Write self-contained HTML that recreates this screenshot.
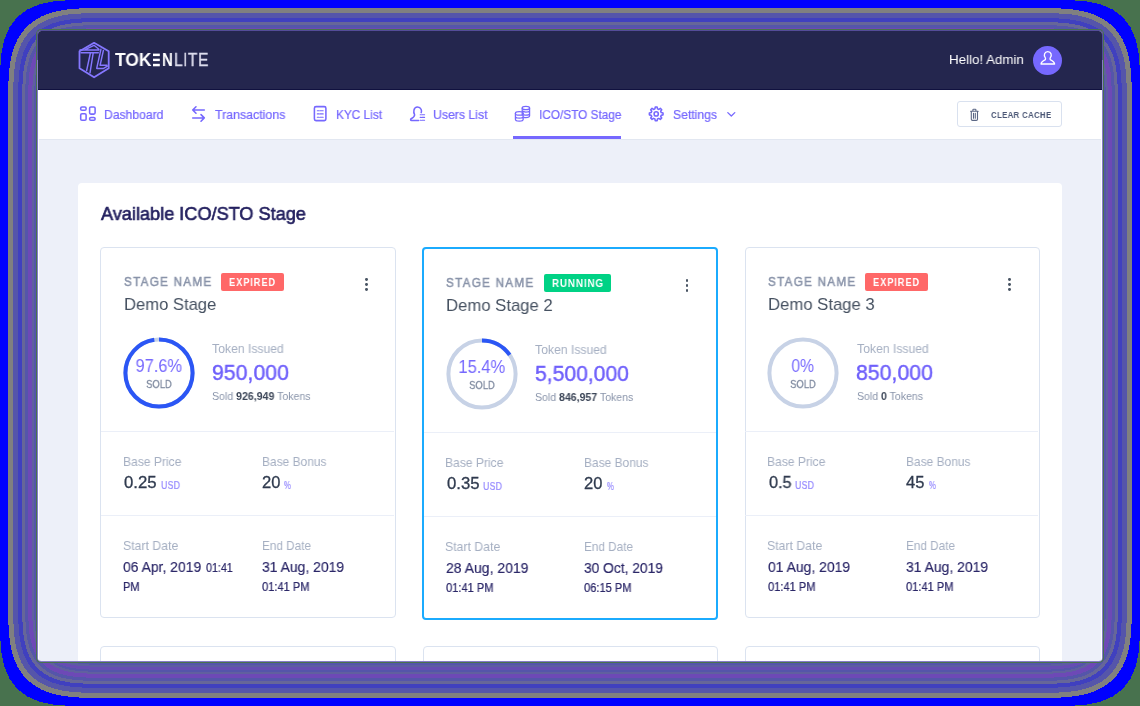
<!DOCTYPE html>
<html><head><meta charset="utf-8"><title>TokenLite</title>
<style>
html,body{margin:0;padding:0}
body{width:1140px;height:706px;overflow:hidden;position:relative;background:rgb(72,114,78);font-family:"Liberation Sans",sans-serif}
.bd{position:absolute}
#gap{position:absolute;left:36px;top:29px;width:1068px;height:634px;border-radius:5px;background:rgb(72,114,78)}
#edge{position:absolute;left:37px;top:30px;width:1066px;height:632px;border-radius:4.5px;background:rgb(134,124,198)}
#edgetop{position:absolute;left:37px;top:30px;width:1066px;height:30px;border-radius:4.5px 4.5px 0 0;background:rgb(84,76,152)}
#page{position:absolute;left:38px;top:31px;width:1064px;height:630px;border-radius:3.5px;background:#edf0f9;overflow:hidden}
#topbar{position:absolute;left:0;top:0;width:100%;height:58.5px;background:#24264e;box-shadow:inset 0 -1px 0 #10113f}
#menubar{position:absolute;left:0;top:58.5px;width:100%;height:49.7px;background:#fff;border-bottom:1.6px solid #e2e7f1}
#panel{position:absolute;left:39.7px;top:151.8px;width:984.4px;height:500px;background:#fff;border-radius:4px 4px 0 0}
#edgeL,#edgeR{position:absolute;top:58.5px;bottom:0;width:1px;background:#fff}
#edgeL{left:0}#edgeR{right:0}
.t{position:absolute;white-space:nowrap;line-height:1;display:inline-block;will-change:transform}
.card{position:absolute;border:1px solid #dbe3f0;border-radius:4px;background:#fff}
.card.act{border:2px solid #1babfe}
.dv{position:absolute;height:1px;background:#ebeff8}
.bdg{position:absolute;border-radius:2px}
.dot{position:absolute;width:2.8px;height:2.8px;border-radius:50%;background:#495463}
.ring{position:absolute}
.ic{position:absolute}
#avatar{position:absolute;left:1033px;top:45.5px;width:29px;height:29px;border-radius:50%;background:#7668fe}
#ccbtn{position:absolute;left:957.4px;top:101.4px;width:102.5px;height:23.3px;border:1px solid #d9e1ef;border-radius:3px;background:#fff}
#uline{position:absolute;left:513.2px;top:136px;width:108.1px;height:2.5px;background:#7668fe}
#icons{position:absolute;left:0;top:0}
#row2{position:absolute;left:0;top:0;width:100%;height:100%}

</style></head>
<body>
<svg class="bd" style="left:0;top:0" width="1140" height="706" viewBox="0 0 1140 706" shape-rendering="crispEdges">
<path d="M0 74C0 21 21 0 74 0H1066C1119 0 1140 21 1140 74V632C1140 685 1119 706 1066 706H74C21 706 0 685 0 632Z" fill="rgb(0,0,255)"/>
<path d="M8.0 353.0L8.0 104.5L8.3 85.0L9.0 72.0L10.1 62.5L11.8 54.5L14.1 47.0L17.2 40.0L19.2 36.5L21.2 33.5L23.5 30.5L25.7 28.0L28.0 25.7L31.0 23.1L36.5 19.2L41.5 16.5L46.5 14.3L52.0 12.5L58.0 11.0L64.0 9.9L71.0 9.1L79.0 8.5L88.5 8.2L119.5 8.0L570.0 8.0L570.0 8.0L1020.5 8.0L1051.5 8.2L1061.0 8.5L1069.0 9.1L1076.0 9.9L1082.0 11.0L1088.0 12.5L1093.5 14.3L1098.5 16.5L1103.5 19.2L1109.0 23.1L1112.0 25.7L1114.3 28.0L1116.5 30.5L1118.8 33.5L1120.8 36.5L1122.8 40.0L1125.9 47.0L1128.2 54.5L1129.9 62.5L1131.0 72.0L1131.7 85.0L1132.0 104.5L1132.0 353.0L1132.0 353.0L1132.0 601.5L1131.7 621.0L1131.0 634.0L1129.9 643.5L1128.2 651.5L1125.9 659.0L1122.8 666.0L1120.8 669.5L1118.8 672.5L1116.5 675.5L1114.3 678.0L1112.0 680.3L1109.0 682.9L1103.5 686.8L1098.5 689.5L1093.5 691.7L1088.0 693.5L1082.0 695.0L1076.0 696.1L1069.0 696.9L1061.0 697.5L1051.5 697.8L1020.5 698.0L570.0 698.0L570.0 698.0L119.5 698.0L88.5 697.8L79.0 697.5L71.0 696.9L64.0 696.1L58.0 695.0L52.0 693.5L46.5 691.7L41.5 689.5L36.5 686.8L31.0 682.9L28.0 680.3L25.7 678.0L23.5 675.5L21.2 672.5L19.2 669.5L17.2 666.0L14.1 659.0L11.8 651.5L10.1 643.5L9.0 634.0L8.3 621.0L8.0 601.5L8.0 353.0Z" fill="rgb(128,128,128)"/>
<path d="M13.0 353.0L13.0 105.5L13.3 86.5L13.9 74.0L15.0 65.0L16.5 57.0L18.9 49.5L21.7 43.0L25.4 37.0L29.5 32.0L32.0 29.5L34.5 27.3L40.0 23.4L44.5 21.0L49.5 18.9L55.0 17.1L60.5 15.8L66.5 14.7L73.5 14.0L81.0 13.5L90.5 13.2L121.0 13.0L570.0 13.0L570.0 13.0L1019.0 13.0L1049.5 13.2L1059.0 13.5L1066.5 14.0L1073.5 14.7L1079.5 15.8L1085.0 17.1L1090.5 18.9L1095.5 21.0L1100.0 23.4L1105.5 27.3L1108.0 29.5L1110.5 32.0L1114.6 37.0L1118.3 43.0L1121.1 49.5L1123.5 57.0L1125.0 65.0L1126.1 74.0L1126.7 86.5L1127.0 105.5L1127.0 353.0L1127.0 353.0L1127.0 600.5L1126.7 619.5L1126.1 632.0L1125.0 641.0L1123.5 649.0L1121.1 656.5L1118.3 663.0L1114.6 669.0L1110.5 674.0L1108.0 676.5L1105.5 678.7L1100.0 682.6L1095.5 685.0L1090.5 687.1L1085.0 688.9L1079.5 690.2L1073.5 691.3L1066.5 692.0L1059.0 692.5L1049.5 692.8L1019.0 693.0L570.0 693.0L570.0 693.0L121.0 693.0L90.5 692.8L81.0 692.5L73.5 692.0L66.5 691.3L60.5 690.2L55.0 688.9L49.5 687.1L44.5 685.0L40.0 682.6L34.5 678.7L32.0 676.5L29.5 674.0L25.4 669.0L21.7 663.0L18.9 656.5L16.5 649.0L15.0 641.0L13.9 632.0L13.3 619.5L13.0 600.5L13.0 353.0Z" fill="rgb(85,85,170)"/>
<path d="M18.0 353.0L18.0 107.0L18.2 88.5L18.8 76.0L19.9 67.0L21.3 59.5L23.5 52.5L26.1 46.5L29.3 41.0L33.3 36.0L38.0 31.6L40.5 29.7L43.5 27.7L48.0 25.3L52.5 23.5L57.5 21.9L63.0 20.6L69.0 19.6L75.5 18.9L83.0 18.4L92.0 18.2L122.0 18.0L570.0 18.0L570.0 18.0L1018.0 18.0L1048.0 18.2L1057.0 18.4L1064.5 18.9L1071.0 19.6L1077.0 20.6L1082.5 21.9L1087.5 23.5L1092.0 25.3L1096.5 27.7L1099.5 29.7L1102.0 31.6L1106.7 36.0L1110.7 41.0L1113.9 46.5L1116.5 52.5L1118.7 59.5L1120.1 67.0L1121.2 76.0L1121.8 88.5L1122.0 107.0L1122.0 353.0L1122.0 353.0L1122.0 599.0L1121.8 617.5L1121.2 630.0L1120.1 639.0L1118.7 646.5L1116.5 653.5L1113.9 659.5L1110.7 665.0L1106.7 670.0L1102.0 674.4L1099.5 676.3L1096.5 678.3L1092.0 680.7L1087.5 682.5L1082.5 684.1L1077.0 685.4L1071.0 686.4L1064.5 687.1L1057.0 687.6L1048.0 687.8L1018.0 688.0L570.0 688.0L570.0 688.0L122.0 688.0L92.0 687.8L83.0 687.6L75.5 687.1L69.0 686.4L63.0 685.4L57.5 684.1L52.5 682.5L48.0 680.7L43.5 678.3L40.5 676.3L38.0 674.4L33.3 670.0L29.3 665.0L26.1 659.5L23.5 653.5L21.3 646.5L19.9 639.0L18.8 630.0L18.2 617.5L18.0 599.0L18.0 353.0Z" fill="rgb(64,64,191)"/>
<path d="M22.0 353.0L22.0 108.5L22.2 90.0L22.8 78.0L23.7 69.5L25.1 62.0L27.0 55.5L29.5 49.5L32.6 44.0L36.6 39.0L41.0 34.9L46.0 31.4L50.0 29.2L54.5 27.3L59.5 25.7L65.0 24.4L70.5 23.5L77.0 22.9L84.0 22.4L93.0 22.2L123.0 22.0L570.0 22.0L570.0 22.0L1017.0 22.0L1047.0 22.2L1056.0 22.4L1063.0 22.9L1069.5 23.5L1075.0 24.4L1080.5 25.7L1085.5 27.3L1090.0 29.2L1094.0 31.4L1099.0 34.9L1103.4 39.0L1107.4 44.0L1110.5 49.5L1113.0 55.5L1114.9 62.0L1116.3 69.5L1117.2 78.0L1117.8 90.0L1118.0 108.5L1118.0 353.0L1118.0 353.0L1118.0 597.5L1117.8 616.0L1117.2 628.0L1116.3 636.5L1114.9 644.0L1113.0 650.5L1110.5 656.5L1107.4 662.0L1103.4 667.0L1099.0 671.1L1094.0 674.6L1090.0 676.8L1085.5 678.7L1080.5 680.3L1075.0 681.6L1069.5 682.5L1063.0 683.1L1056.0 683.6L1047.0 683.8L1017.0 684.0L570.0 684.0L570.0 684.0L123.0 684.0L93.0 683.8L84.0 683.6L77.0 683.1L70.5 682.5L65.0 681.6L59.5 680.3L54.5 678.7L50.0 676.8L46.0 674.6L41.0 671.1L36.6 667.0L32.6 662.0L29.5 656.5L27.0 650.5L25.1 644.0L23.7 636.5L22.8 628.0L22.2 616.0L22.0 597.5L22.0 353.0Z" fill="rgb(102,102,153)"/>
<path d="M25.0 353.0L25.0 109.5L25.2 91.5L25.7 79.5L26.6 71.0L27.9 64.0L29.7 57.5L32.1 51.5L35.3 46.0L38.9 41.5L43.0 37.6L48.0 34.0L52.0 31.9L56.5 30.0L61.5 28.5L66.5 27.3L72.0 26.5L78.0 25.8L85.0 25.4L94.0 25.1L123.5 25.0L570.0 25.0L570.0 25.0L1016.5 25.0L1046.0 25.1L1055.0 25.4L1062.0 25.8L1068.0 26.5L1073.5 27.3L1078.5 28.5L1083.5 30.0L1088.0 31.9L1092.0 34.0L1097.0 37.6L1101.1 41.5L1104.7 46.0L1107.9 51.5L1110.3 57.5L1112.1 64.0L1113.4 71.0L1114.3 79.5L1114.8 91.5L1115.0 109.5L1115.0 353.0L1115.0 353.0L1115.0 596.5L1114.8 614.5L1114.3 626.5L1113.4 635.0L1112.1 642.0L1110.3 648.5L1107.9 654.5L1104.7 660.0L1101.1 664.5L1097.0 668.4L1092.0 672.0L1088.0 674.1L1083.5 676.0L1078.5 677.5L1073.5 678.7L1068.0 679.5L1062.0 680.2L1055.0 680.6L1046.0 680.9L1016.5 681.0L570.0 681.0L570.0 681.0L123.5 681.0L94.0 680.9L85.0 680.6L78.0 680.2L72.0 679.5L66.5 678.7L61.5 677.5L56.5 676.0L52.0 674.1L48.0 672.0L43.0 668.4L38.9 664.5L35.3 660.0L32.1 654.5L29.7 648.5L27.9 642.0L26.6 635.0L25.7 626.5L25.2 614.5L25.0 596.5L25.0 353.0Z" fill="rgb(85,85,170)"/>
<path d="M28.0 353.0L28.0 110.5L28.2 92.5L28.7 81.0L29.5 72.5L30.8 65.5L32.6 59.0L34.8 53.5L37.7 48.5L41.2 44.0L45.5 39.9L50.0 36.7L54.0 34.6L58.0 32.9L63.0 31.4L68.0 30.2L73.5 29.4L79.5 28.8L95.0 28.1L124.0 28.0L570.0 28.0L570.0 28.0L1016.0 28.0L1045.0 28.1L1060.5 28.8L1066.5 29.4L1072.0 30.2L1077.0 31.4L1082.0 32.9L1086.0 34.6L1090.0 36.7L1094.5 39.9L1098.8 44.0L1102.3 48.5L1105.2 53.5L1107.4 59.0L1109.2 65.5L1110.5 72.5L1111.3 81.0L1111.8 92.5L1112.0 110.5L1112.0 353.0L1112.0 353.0L1112.0 595.5L1111.8 613.5L1111.3 625.0L1110.5 633.5L1109.2 640.5L1107.4 647.0L1105.2 652.5L1102.3 657.5L1098.8 662.0L1094.5 666.1L1090.0 669.3L1086.0 671.4L1082.0 673.1L1077.0 674.6L1072.0 675.8L1066.5 676.6L1060.5 677.2L1045.0 677.9L1016.0 678.0L570.0 678.0L570.0 678.0L124.0 678.0L95.0 677.9L79.5 677.2L73.5 676.6L68.0 675.8L63.0 674.6L58.0 673.1L54.0 671.4L50.0 669.3L45.5 666.1L41.2 662.0L37.7 657.5L34.8 652.5L32.6 647.0L30.8 640.5L29.5 633.5L28.7 625.0L28.2 613.5L28.0 595.5L28.0 353.0Z" fill="rgb(109,73,182)"/>
<path d="M32.0 353.0L32.0 111.5L32.2 94.0L32.6 82.5L33.4 74.5L34.6 67.5L36.3 61.5L38.5 56.0L41.4 51.0L44.6 47.0L48.5 43.3L53.0 40.2L57.0 38.1L61.0 36.5L65.5 35.1L70.5 34.0L75.5 33.3L81.5 32.7L97.0 32.1L570.0 32.0L570.0 32.0L1043.0 32.1L1058.5 32.7L1064.5 33.3L1069.5 34.0L1074.5 35.1L1079.0 36.5L1083.0 38.1L1087.0 40.2L1091.5 43.3L1095.4 47.0L1098.6 51.0L1101.5 56.0L1103.7 61.5L1105.4 67.5L1106.6 74.5L1107.4 82.5L1107.8 94.0L1108.0 111.5L1108.0 353.0L1108.0 353.0L1108.0 594.5L1107.8 612.0L1107.4 623.5L1106.6 631.5L1105.4 638.5L1103.7 644.5L1101.5 650.0L1098.6 655.0L1095.4 659.0L1091.5 662.7L1087.0 665.8L1083.0 667.9L1079.0 669.5L1074.5 670.9L1069.5 672.0L1064.5 672.7L1058.5 673.3L1043.0 673.9L570.0 674.0L570.0 674.0L97.0 673.9L81.5 673.3L75.5 672.7L70.5 672.0L65.5 670.9L61.0 669.5L57.0 667.9L53.0 665.8L48.5 662.7L44.6 659.0L41.4 655.0L38.5 650.0L36.3 644.5L34.6 638.5L33.4 631.5L32.6 623.5L32.2 612.0L32.0 594.5L32.0 353.0Z" fill="rgb(96,96,159)"/>
<path d="M34.0 353.0L34.0 112.0L34.2 94.5L34.6 83.5L35.4 75.5L36.5 69.0L38.1 63.0L40.3 57.5L43.2 52.5L46.3 48.5L50.0 45.0L54.5 41.9L58.0 40.1L62.0 38.4L66.5 37.1L71.5 36.0L76.5 35.3L82.5 34.7L97.5 34.1L570.0 34.0L570.0 34.0L1042.5 34.1L1057.5 34.7L1063.5 35.3L1068.5 36.0L1073.5 37.1L1078.0 38.4L1082.0 40.1L1085.5 41.9L1090.0 45.0L1093.7 48.5L1096.8 52.5L1099.7 57.5L1101.9 63.0L1103.5 69.0L1104.6 75.5L1105.4 83.5L1105.8 94.5L1106.0 112.0L1106.0 353.0L1106.0 353.0L1106.0 594.0L1105.8 611.5L1105.4 622.5L1104.6 630.5L1103.5 637.0L1101.9 643.0L1099.7 648.5L1096.8 653.5L1093.7 657.5L1090.0 661.0L1085.5 664.1L1082.0 665.9L1078.0 667.6L1073.5 668.9L1068.5 670.0L1063.5 670.7L1057.5 671.3L1042.5 671.9L570.0 672.0L570.0 672.0L97.5 671.9L82.5 671.3L76.5 670.7L71.5 670.0L66.5 668.9L62.0 667.6L58.0 665.9L54.5 664.1L50.0 661.0L46.3 657.5L43.2 653.5L40.3 648.5L38.1 643.0L36.5 637.0L35.4 630.5L34.6 622.5L34.2 611.5L34.0 594.0L34.0 353.0Z" fill="rgb(85,85,170)"/>
<path d="M36.0 353.0L36.0 113.0L36.2 95.5L36.6 84.5L37.3 76.5L38.4 70.0L40.1 64.0L42.0 59.0L44.9 54.0L48.0 50.0L51.5 46.7L56.0 43.6L59.5 41.8L63.5 40.2L68.0 38.9L72.5 38.0L77.5 37.2L83.5 36.7L98.5 36.1L570.0 36.0L570.0 36.0L1041.5 36.1L1056.5 36.7L1062.5 37.2L1067.5 38.0L1072.0 38.9L1076.5 40.2L1080.5 41.8L1084.0 43.6L1088.5 46.7L1092.0 50.0L1095.1 54.0L1098.0 59.0L1099.9 64.0L1101.6 70.0L1102.7 76.5L1103.4 84.5L1103.8 95.5L1104.0 113.0L1104.0 353.0L1104.0 353.0L1104.0 593.0L1103.8 610.5L1103.4 621.5L1102.7 629.5L1101.6 636.0L1099.9 642.0L1098.0 647.0L1095.1 652.0L1092.0 656.0L1088.5 659.3L1084.0 662.4L1080.5 664.2L1076.5 665.8L1072.0 667.1L1067.5 668.0L1062.5 668.8L1056.5 669.3L1041.5 669.9L570.0 670.0L570.0 670.0L98.5 669.9L83.5 669.3L77.5 668.8L72.5 668.0L68.0 667.1L63.5 665.8L59.5 664.2L56.0 662.4L51.5 659.3L48.0 656.0L44.9 652.0L42.0 647.0L40.1 642.0L38.4 636.0L37.3 629.5L36.6 621.5L36.2 610.5L36.0 593.0L36.0 353.0Z" fill="rgb(102,77,179)"/>
<path d="M39.0 353.0L39.0 114.0L39.2 97.0L39.6 86.0L40.2 78.5L41.3 72.0L42.8 66.0L44.8 61.0L47.3 56.5L50.4 52.5L54.0 49.1L58.0 46.4L61.5 44.6L65.5 43.0L69.5 41.8L74.0 40.9L79.0 40.2L84.5 39.7L99.5 39.1L570.0 39.0L570.0 39.0L1040.5 39.1L1055.5 39.7L1061.0 40.2L1066.0 40.9L1070.5 41.8L1074.5 43.0L1078.5 44.6L1082.0 46.4L1086.0 49.1L1089.6 52.5L1092.7 56.5L1095.2 61.0L1097.2 66.0L1098.7 72.0L1099.8 78.5L1100.4 86.0L1100.8 97.0L1101.0 114.0L1101.0 353.0L1101.0 353.0L1101.0 592.0L1100.8 609.0L1100.4 620.0L1099.8 627.5L1098.7 634.0L1097.2 640.0L1095.2 645.0L1092.7 649.5L1089.6 653.5L1086.0 656.9L1082.0 659.6L1078.5 661.4L1074.5 663.0L1070.5 664.2L1066.0 665.1L1061.0 665.8L1055.5 666.3L1040.5 666.9L570.0 667.0L570.0 667.0L99.5 666.9L84.5 666.3L79.0 665.8L74.0 665.1L69.5 664.2L65.5 663.0L61.5 661.4L58.0 659.6L54.0 656.9L50.4 653.5L47.3 649.5L44.8 645.0L42.8 640.0L41.3 634.0L40.2 627.5L39.6 620.0L39.2 609.0L39.0 592.0L39.0 353.0Z" fill="rgb(93,93,162)"/>
<path d="M41.0 353.0L41.0 114.5L41.2 97.5L41.5 87.0L42.2 79.5L43.2 73.0L44.7 67.5L46.6 62.5L49.1 58.0L52.2 54.0L55.5 50.9L59.5 48.2L63.0 46.4L66.5 45.0L71.0 43.7L75.5 42.8L80.5 42.1L86.0 41.6L100.5 41.1L570.0 41.0L570.0 41.0L1039.5 41.1L1054.0 41.6L1059.5 42.1L1064.5 42.8L1069.0 43.7L1073.5 45.0L1077.0 46.4L1080.5 48.2L1084.5 50.9L1087.8 54.0L1090.9 58.0L1093.4 62.5L1095.3 67.5L1096.8 73.0L1097.8 79.5L1098.5 87.0L1098.8 97.5L1099.0 114.5L1099.0 353.0L1099.0 353.0L1099.0 591.5L1098.8 608.5L1098.5 619.0L1097.8 626.5L1096.8 633.0L1095.3 638.5L1093.4 643.5L1090.9 648.0L1087.8 652.0L1084.5 655.1L1080.5 657.8L1077.0 659.6L1073.5 661.0L1069.0 662.3L1064.5 663.2L1059.5 663.9L1054.0 664.4L1039.5 664.9L570.0 665.0L570.0 665.0L100.5 664.9L86.0 664.4L80.5 663.9L75.5 663.2L71.0 662.3L66.5 661.0L63.0 659.6L59.5 657.8L55.5 655.1L52.2 652.0L49.1 648.0L46.6 643.5L44.7 638.5L43.2 633.0L42.2 626.5L41.5 619.0L41.2 608.5L41.0 591.5L41.0 353.0Z" fill="rgb(85,85,170)"/>
<path d="M43.0 353.0L43.0 115.5L43.1 98.5L43.5 88.0L44.2 80.5L45.1 74.5L46.5 69.0L48.4 64.0L50.8 59.5L53.5 56.0L57.0 52.7L61.0 49.9L64.5 48.2L68.0 46.8L72.0 45.7L76.5 44.7L81.5 44.1L87.0 43.6L101.0 43.1L570.0 43.0L570.0 43.0L1039.0 43.1L1053.0 43.6L1058.5 44.1L1063.5 44.7L1068.0 45.7L1072.0 46.8L1075.5 48.2L1079.0 49.9L1083.0 52.7L1086.5 56.0L1089.2 59.5L1091.6 64.0L1093.5 69.0L1094.9 74.5L1095.8 80.5L1096.5 88.0L1096.9 98.5L1097.0 115.5L1097.0 353.0L1097.0 353.0L1097.0 590.5L1096.9 607.5L1096.5 618.0L1095.8 625.5L1094.9 631.5L1093.5 637.0L1091.6 642.0L1089.2 646.5L1086.5 650.0L1083.0 653.3L1079.0 656.1L1075.5 657.8L1072.0 659.2L1068.0 660.3L1063.5 661.3L1058.5 661.9L1053.0 662.4L1039.0 662.9L570.0 663.0L570.0 663.0L101.0 662.9L87.0 662.4L81.5 661.9L76.5 661.3L72.0 660.3L68.0 659.2L64.5 657.8L61.0 656.1L57.0 653.3L53.5 650.0L50.8 646.5L48.4 642.0L46.5 637.0L45.1 631.5L44.2 625.5L43.5 618.0L43.1 607.5L43.0 590.5L43.0 353.0Z" fill="rgb(98,78,177)"/>
</svg>

<div id="gap"></div>
<div id="edge"></div><div id="edgetop"></div>
<div id="page">
<div id="topbar"></div>
<div id="menubar"></div>
<div id="panel"></div>
<div id="edgeL"></div><div id="edgeR"></div>
<div id="row2">
<div class="card" style="left:62.4px;top:614.6px;width:293.2px;height:40px"></div>
<div class="card" style="left:384.5px;top:614.6px;width:293.2px;height:40px"></div>
<div class="card" style="left:706.5px;top:614.6px;width:293.2px;height:40px"></div>
</div>
</div>
<div id="avatar"></div>
<div id="ccbtn"></div>
<div id="uline"></div>
<svg id="icons" width="1140" height="706" viewBox="0 0 1140 706" fill="none" stroke-linecap="round" stroke-linejoin="round">
<!-- logo -->
<g stroke="#8577ff" stroke-width="1.8">
<path d="M94.1 42.8L108.7 51.3V68.2L94.1 77.3L79.5 68.2V51.3Z"/>
<path d="M80 49.9H99M81 52.7H98.3M90.4 53L86.6 70.6M93.2 53L90 72.8M85.6 49.4L94 45.3L98.9 49.3" stroke-width="1.45"/>
<path d="M100.9 49.3L96.7 68.4H103.6L107.4 66.2M103.4 50.4L100.1 65.3H107" stroke-width="1.45"/>
</g>
<!-- stylised E bars -->
<g fill="#ffffff" stroke="none"><rect x="153" y="53.6" width="6.8" height="2.5"/><rect x="153" y="58.7" width="6.8" height="2.4"/><rect x="153" y="63.8" width="6.8" height="2.5"/></g>
<!-- dashboard icon -->
<g stroke="#7668fe" stroke-width="1.55">
<rect x="80.7" y="106.9" width="5.4" height="3.4" rx="1.3"/>
<rect x="80.7" y="113.8" width="5.4" height="6.5" rx="1.3"/>
<rect x="89.6" y="106.9" width="5.5" height="7.2" rx="1.3"/>
<rect x="89.6" y="117.5" width="5.5" height="2.8" rx="1.3"/>
</g>
<!-- transactions icon -->
<g stroke="#7668fe" stroke-width="1.55">
<path d="M204.3 110H192.7M196 106.7L192.7 110L196 113.3"/>
<path d="M192.7 117.9H204.3M201 114.6L204.3 117.9L201 121.2"/>
</g>
<!-- kyc icon -->
<g stroke="#7668fe" stroke-width="1.55">
<rect x="314.4" y="106.6" width="11.5" height="14" rx="1.6"/>
<path d="M317.3 110.7H323.2M317.3 113.9H323.2M317.3 117.2H323.2" stroke-width="1.1" stroke-dasharray="1.6 1 5 0"/>
</g>
<!-- users icon -->
<g stroke="#7668fe" stroke-width="1.55">
<path d="M418.6 120.5H411.6C410.4 120.5 410.3 119.3 411.2 118.7C413.2 117.6 414.8 116.6 414.6 114.6C413.2 112.6 413.4 107 417.5 107C421.3 107 422 111 421.2 112.6"/>
<path d="M420.2 114.7H424.6M420.2 117.4H424.6M420.2 120.2H424.6" stroke-width="1.1" stroke-dasharray="1 0.9 4 0"/>
</g>
<!-- ico icon -->
<g stroke="#7668fe" stroke-width="1.25">
<ellipse cx="525.9" cy="108" rx="3.7" ry="1.7"/>
<path d="M522.2 108V115.6M529.6 108V115.8C529.6 116.8 527.6 117.6 525.9 117.6C525 117.6 524.3 117.5 523.8 117.3M522.3 110.6C523 111.6 524.6 112 525.9 112C527.6 112 529.6 111.4 529.6 110.4M524 114.9C524.6 115 525.2 115.1 525.9 115.1C527.6 115.1 529.6 114.4 529.6 113.4"/>
<ellipse cx="519.3" cy="113.4" rx="3.9" ry="1.8"/>
<path d="M515.4 113.4V119.3C515.4 120.4 517.3 121.2 519.3 121.2C521.3 121.2 523.2 120.4 523.2 119.3V113.4M515.4 116.3C515.4 117.4 517.3 118.2 519.3 118.2C521.3 118.2 523.2 117.4 523.2 116.3"/>
</g>
<!-- gear -->
<g stroke="#7668fe" stroke-width="1.55">
<circle cx="656.2" cy="113.9" r="2.1"/>
<path d="M655.23 107.07L657.17 107.07L657.49 108.86L658.85 109.42L660.34 108.38L661.72 109.76L660.68 111.25L661.24 112.61L663.03 112.93L663.03 114.87L661.24 115.19L660.68 116.55L661.72 118.04L660.34 119.42L658.85 118.38L657.49 118.94L657.17 120.73L655.23 120.73L654.91 118.94L653.55 118.38L652.06 119.42L650.68 118.04L651.72 116.55L651.16 115.19L649.37 114.87L649.37 112.93L651.16 112.61L651.72 111.25L650.68 109.76L652.06 108.38L653.55 109.42L654.91 108.86Z"/>
</g>
<!-- chevron -->
<path d="M727.8 112.6L731.3 116L734.8 112.6" stroke="#7668fe" stroke-width="1.3"/>
<!-- avatar person -->
<g stroke="#ffffff" stroke-width="1.3">
<path d="M1041 64H1054.6C1054.6 62 1053 61 1050.2 59.6C1049.8 58.6 1050 58 1050.6 57.2C1051.8 55.4 1051.4 51.6 1047.8 51.6C1044.2 51.6 1043.8 55.4 1045 57.2C1045.6 58 1045.8 58.6 1045.4 59.6C1042.6 61 1041 62 1041 64Z"/>
</g>
<!-- trash -->
<g stroke="#5b6785" stroke-width="1.1">
<path d="M970.6 111.2H978.2M972.9 111V109.8C972.9 109.4 973.2 109.2 973.6 109.2H975.2C975.6 109.2 975.9 109.4 975.9 109.8V111M971.3 111.3V119.2C971.3 119.9 971.8 120.4 972.5 120.4H976.3C977 120.4 977.5 119.9 977.5 119.2V111.3M973.5 113.3V118.2M975.3 113.3V118.2"/>
</g>
</svg>

<div class="card" style="left:100.4px;top:247.3px;width:293.2px;height:368.3px"></div>
<div class="dv" style="left:101.0px;top:431px;width:293px"></div>
<div class="dv" style="left:101.0px;top:515px;width:293px"></div>
<div class="bdg" style="left:220.9px;top:272.8px;width:62.9px;height:18.5px;background:#ff6868"></div>
<div class="dot" style="left:364.8px;top:277.8px"></div>
<div class="dot" style="left:364.8px;top:283.0px"></div>
<div class="dot" style="left:364.8px;top:288.2px"></div>
<svg class="ring" style="left:122.7px;top:336.9px" width="72" height="72" viewBox="-36 -36 72 72"><circle r="33.6" fill="none" stroke="#c7d2e6" stroke-width="4"/><circle r="33.6" fill="none" stroke="#2b56f5" stroke-width="4" stroke-dasharray="206.05 211.12" transform="rotate(-90)"/></svg>
<div class="card act" style="left:422.1px;top:246.9px;width:291.8px;height:368.7px"></div>
<div class="dv" style="left:423.7px;top:432px;width:292px"></div>
<div class="dv" style="left:423.7px;top:516px;width:292px"></div>
<div class="bdg" style="left:543.6px;top:273.8px;width:67.1px;height:18.5px;background:#00d285"></div>
<div class="dot" style="left:685.6px;top:278.8px"></div>
<div class="dot" style="left:685.6px;top:284.0px"></div>
<div class="dot" style="left:685.6px;top:289.2px"></div>
<svg class="ring" style="left:446.0px;top:338.1px" width="72" height="72" viewBox="-36 -36 72 72"><circle r="33.6" fill="none" stroke="#c7d2e6" stroke-width="4"/><circle r="33.6" fill="none" stroke="#2b56f5" stroke-width="4" stroke-dasharray="32.51 211.12" transform="rotate(-90)"/></svg>
<div class="card" style="left:744.5px;top:247.3px;width:293.2px;height:368.3px"></div>
<div class="dv" style="left:745.4px;top:431px;width:293px"></div>
<div class="dv" style="left:745.4px;top:515px;width:293px"></div>
<div class="bdg" style="left:865.3px;top:272.8px;width:62.9px;height:18.5px;background:#ff6868"></div>
<div class="dot" style="left:1008.0px;top:277.8px"></div>
<div class="dot" style="left:1008.0px;top:283.0px"></div>
<div class="dot" style="left:1008.0px;top:288.2px"></div>
<svg class="ring" style="left:767.1px;top:336.9px" width="72" height="72" viewBox="-36 -36 72 72"><circle r="33.6" fill="none" stroke="#c7d2e6" stroke-width="4"/></svg>

<span class="t" id="lg1" style="left:115.00px;top:52.35px;font-size:17.9px;font-weight:700;color:#ffffff;transform:scaleX(0.9746);transform-origin:left top;">TOK</span>
<span class="t" id="lg2" style="left:161.60px;top:52.35px;font-size:17.9px;font-weight:700;color:#ffffff;transform:scaleX(0.8435);transform-origin:left top;">N</span>
<span class="t" id="lg3" style="left:174.20px;top:52.35px;font-size:17.9px;font-weight:400;color:#dddced;-webkit-text-stroke:0.36px #dddced;letter-spacing:0.6px;transform:scaleX(0.8664);transform-origin:left top;">LITE</span>
<span class="t" id="hello" style="left:949.40px;top:52.87px;font-size:13.5px;font-weight:400;color:#ffffff;transform:scaleX(0.9882);transform-origin:left top;">Hello! Admin</span>
<span class="t" id="m1" style="left:104.20px;top:107.80px;font-size:13px;font-weight:400;color:#7668fe;-webkit-text-stroke:0.23px #7668fe;transform:scaleX(0.9354);transform-origin:left top;">Dashboard</span>
<span class="t" id="m2" style="left:215.00px;top:107.80px;font-size:13px;font-weight:400;color:#7668fe;-webkit-text-stroke:0.23px #7668fe;transform:scaleX(0.9508);transform-origin:left top;">Transactions</span>
<span class="t" id="m3" style="left:336.30px;top:107.80px;font-size:13px;font-weight:400;color:#7668fe;-webkit-text-stroke:0.23px #7668fe;transform:scaleX(0.9095);transform-origin:left top;">KYC List</span>
<span class="t" id="m4" style="left:433.00px;top:107.80px;font-size:13px;font-weight:400;color:#7668fe;-webkit-text-stroke:0.23px #7668fe;transform:scaleX(0.9430);transform-origin:left top;">Users List</span>
<span class="t" id="m5" style="left:538.80px;top:107.80px;font-size:13px;font-weight:400;color:#7668fe;-webkit-text-stroke:0.23px #7668fe;transform:scaleX(0.9086);transform-origin:left top;">ICO/STO Stage</span>
<span class="t" id="m6" style="left:672.60px;top:107.80px;font-size:13px;font-weight:400;color:#7668fe;-webkit-text-stroke:0.23px #7668fe;transform:scaleX(0.9365);transform-origin:left top;">Settings</span>
<span class="t" id="cc" style="left:991.00px;top:109.84px;font-size:9.4px;font-weight:700;color:#4a5675;letter-spacing:0.4px;transform:scaleX(0.8333);transform-origin:left top;">CLEAR CACHE</span>
<span class="t" id="h1" style="left:100.70px;top:204.59px;font-size:18.8px;font-weight:400;color:#23205f;-webkit-text-stroke:0.60px #23205f;transform:scaleX(0.9652);transform-origin:left top;">Available ICO/STO Stage</span>
<span class="t" id="c0sn" style="left:123.70px;top:275.80px;font-size:12.4px;font-weight:400;color:#8993a9;-webkit-text-stroke:0.50px #8993a9;letter-spacing:1.4px;transform:scaleX(0.9373);transform-origin:left top;">STAGE NAME</span>
<span class="t" id="c0bg" style="left:229.00px;top:276.76px;font-size:10.8px;font-weight:700;color:#ffffff;letter-spacing:1.0px;transform:scaleX(0.8651);transform-origin:left top;">EXPIRED</span>
<span class="t" id="c0nm" style="left:123.70px;top:295.81px;font-size:17px;font-weight:400;color:#465161;transform:scaleX(0.9767);transform-origin:left top;">Demo Stage</span>
<span class="t" id="c0pc" style="left:133.89px;top:357.59px;font-size:17.5px;font-weight:400;color:#7668fe;transform:scaleX(0.9370);transform-origin:center top;">97.6%</span>
<span class="t" id="c0so" style="left:143.72px;top:379.39px;font-size:11px;font-weight:400;color:#818ca1;-webkit-text-stroke:0.28px #818ca1;transform:scaleX(0.8542);transform-origin:center top;">SOLD</span>
<span class="t" id="c0ti" style="left:212.40px;top:342.79px;font-size:12.3px;font-weight:400;color:#a5afc2;transform:scaleX(0.9908);transform-origin:left top;">Token Issued</span>
<span class="t" id="c0is" style="left:212.00px;top:361.95px;font-size:21.8px;font-weight:400;color:#6e5ffb;-webkit-text-stroke:0.44px #6e5ffb;transform:scaleX(0.9759);transform-origin:left top;">950,000</span>
<span class="t" id="c0sl" style="left:212.40px;top:390.69px;font-size:11px;font-weight:400;color:#8a95ab;transform:scaleX(0.9614);transform-origin:left top;">Sold <b style="color:#3c4658">926,949</b> Tokens</span>
<span class="t" id="c0bp" style="left:122.50px;top:456.16px;font-size:12.8px;font-weight:400;color:#a5afc2;transform:scaleX(0.9436);transform-origin:left top;">Base Price</span>
<span class="t" id="c0bb" style="left:261.50px;top:456.16px;font-size:12.8px;font-weight:400;color:#a5afc2;transform:scaleX(0.9346);transform-origin:left top;">Base Bonus</span>
<span class="t" id="c0pr" style="left:124.20px;top:475.25px;font-size:16.6px;font-weight:400;color:#2f3a4e;-webkit-text-stroke:0.30px #2f3a4e;transform:scaleX(1.0094);transform-origin:left top;">0.25</span>
<span class="t" id="c0us" style="left:160.70px;top:480.50px;font-size:10.4px;font-weight:400;color:#9488ff;-webkit-text-stroke:0.19px #9488ff;transform:scaleX(0.8655);transform-origin:left top;">USD</span>
<span class="t" id="c0bn" style="left:261.70px;top:475.25px;font-size:16.6px;font-weight:400;color:#2f3a4e;-webkit-text-stroke:0.30px #2f3a4e;transform:scaleX(0.9963);transform-origin:left top;">20</span>
<span class="t" id="c0bpc" style="left:284.40px;top:480.50px;font-size:10.4px;font-weight:400;color:#9488ff;-webkit-text-stroke:0.19px #9488ff;transform:scaleX(0.7351);transform-origin:left top;">%</span>
<span class="t" id="c0sdl" style="left:122.50px;top:539.76px;font-size:12.8px;font-weight:400;color:#a5afc2;transform:scaleX(0.9597);transform-origin:left top;">Start Date</span>
<span class="t" id="c0edl" style="left:261.50px;top:539.76px;font-size:12.8px;font-weight:400;color:#a5afc2;transform:scaleX(0.9183);transform-origin:left top;">End Date</span>
<span class="t" id="c0sd" style="left:123.40px;top:559.10px;font-size:15px;font-weight:400;color:#2b2768;-webkit-text-stroke:0.18px #2b2768;transform:scaleX(0.9282);transform-origin:left top;">06 Apr, 2019</span>
<span class="t" id="c0ed" style="left:261.70px;top:559.10px;font-size:15px;font-weight:400;color:#2b2768;-webkit-text-stroke:0.18px #2b2768;transform:scaleX(0.9285);transform-origin:left top;">31 Aug, 2019</span>
<span class="t" id="c0st1" style="left:206.20px;top:561.64px;font-size:12px;font-weight:400;color:#2b2768;-webkit-text-stroke:0.22px #2b2768;transform:scaleX(0.8924);transform-origin:left top;">01:41</span>
<span class="t" id="c0st2" style="left:123.40px;top:580.54px;font-size:12px;font-weight:400;color:#2b2768;-webkit-text-stroke:0.22px #2b2768;transform:scaleX(0.9167);transform-origin:left top;">PM</span>
<span class="t" id="c0et" style="left:261.70px;top:580.54px;font-size:12px;font-weight:400;color:#2b2768;-webkit-text-stroke:0.22px #2b2768;transform:scaleX(0.9265);transform-origin:left top;">01:41 PM</span>
<span class="t" id="c1sn" style="left:446.40px;top:276.80px;font-size:12.4px;font-weight:400;color:#8993a9;-webkit-text-stroke:0.50px #8993a9;letter-spacing:1.4px;transform:scaleX(0.9373);transform-origin:left top;">STAGE NAME</span>
<span class="t" id="c1bg" style="left:551.70px;top:277.76px;font-size:10.8px;font-weight:700;color:#ffffff;letter-spacing:1.0px;transform:scaleX(0.9044);transform-origin:left top;">RUNNING</span>
<span class="t" id="c1nm" style="left:446.40px;top:296.81px;font-size:17px;font-weight:400;color:#465161;transform:scaleX(0.9817);transform-origin:left top;">Demo Stage 2</span>
<span class="t" id="c1pc" style="left:457.19px;top:358.59px;font-size:17.5px;font-weight:400;color:#7668fe;transform:scaleX(0.9431);transform-origin:center top;">15.4%</span>
<span class="t" id="c1so" style="left:467.02px;top:380.39px;font-size:11px;font-weight:400;color:#818ca1;-webkit-text-stroke:0.28px #818ca1;transform:scaleX(0.8542);transform-origin:center top;">SOLD</span>
<span class="t" id="c1ti" style="left:535.10px;top:343.79px;font-size:12.3px;font-weight:400;color:#a5afc2;transform:scaleX(0.9908);transform-origin:left top;">Token Issued</span>
<span class="t" id="c1is" style="left:534.70px;top:362.95px;font-size:21.8px;font-weight:400;color:#6e5ffb;-webkit-text-stroke:0.44px #6e5ffb;transform:scaleX(0.9694);transform-origin:left top;">5,500,000</span>
<span class="t" id="c1sl" style="left:535.10px;top:391.69px;font-size:11px;font-weight:400;color:#8a95ab;transform:scaleX(0.9584);transform-origin:left top;">Sold <b style="color:#3c4658">846,957</b> Tokens</span>
<span class="t" id="c1bp" style="left:445.20px;top:457.16px;font-size:12.8px;font-weight:400;color:#a5afc2;transform:scaleX(0.9436);transform-origin:left top;">Base Price</span>
<span class="t" id="c1bb" style="left:584.20px;top:457.16px;font-size:12.8px;font-weight:400;color:#a5afc2;transform:scaleX(0.9346);transform-origin:left top;">Base Bonus</span>
<span class="t" id="c1pr" style="left:446.90px;top:476.25px;font-size:16.6px;font-weight:400;color:#2f3a4e;-webkit-text-stroke:0.30px #2f3a4e;transform:scaleX(1.0094);transform-origin:left top;">0.35</span>
<span class="t" id="c1us" style="left:483.40px;top:481.50px;font-size:10.4px;font-weight:400;color:#9488ff;-webkit-text-stroke:0.19px #9488ff;transform:scaleX(0.8655);transform-origin:left top;">USD</span>
<span class="t" id="c1bn" style="left:584.40px;top:476.25px;font-size:16.6px;font-weight:400;color:#2f3a4e;-webkit-text-stroke:0.30px #2f3a4e;transform:scaleX(0.9963);transform-origin:left top;">20</span>
<span class="t" id="c1bpc" style="left:607.10px;top:481.50px;font-size:10.4px;font-weight:400;color:#9488ff;-webkit-text-stroke:0.19px #9488ff;transform:scaleX(0.7351);transform-origin:left top;">%</span>
<span class="t" id="c1sdl" style="left:445.20px;top:540.76px;font-size:12.8px;font-weight:400;color:#a5afc2;transform:scaleX(0.9597);transform-origin:left top;">Start Date</span>
<span class="t" id="c1edl" style="left:584.20px;top:540.76px;font-size:12.8px;font-weight:400;color:#a5afc2;transform:scaleX(0.9183);transform-origin:left top;">End Date</span>
<span class="t" id="c1sd" style="left:446.10px;top:560.10px;font-size:15px;font-weight:400;color:#2b2768;-webkit-text-stroke:0.18px #2b2768;transform:scaleX(0.9330);transform-origin:left top;">28 Aug, 2019</span>
<span class="t" id="c1ed" style="left:584.40px;top:560.10px;font-size:15px;font-weight:400;color:#2b2768;-webkit-text-stroke:0.18px #2b2768;transform:scaleX(0.9196);transform-origin:left top;">30 Oct, 2019</span>
<span class="t" id="c1st" style="left:446.10px;top:581.54px;font-size:12px;font-weight:400;color:#2b2768;-webkit-text-stroke:0.22px #2b2768;transform:scaleX(0.9265);transform-origin:left top;">01:41 PM</span>
<span class="t" id="c1et" style="left:584.40px;top:581.54px;font-size:12px;font-weight:400;color:#2b2768;-webkit-text-stroke:0.22px #2b2768;transform:scaleX(0.9265);transform-origin:left top;">06:15 PM</span>
<span class="t" id="c2sn" style="left:768.10px;top:275.80px;font-size:12.4px;font-weight:400;color:#8993a9;-webkit-text-stroke:0.50px #8993a9;letter-spacing:1.4px;transform:scaleX(0.9373);transform-origin:left top;">STAGE NAME</span>
<span class="t" id="c2bg" style="left:873.40px;top:276.76px;font-size:10.8px;font-weight:700;color:#ffffff;letter-spacing:1.0px;transform:scaleX(0.8651);transform-origin:left top;">EXPIRED</span>
<span class="t" id="c2nm" style="left:768.10px;top:295.81px;font-size:17px;font-weight:400;color:#465161;transform:scaleX(0.9817);transform-origin:left top;">Demo Stage 3</span>
<span class="t" id="c2pc" style="left:790.45px;top:357.59px;font-size:17.5px;font-weight:400;color:#7668fe;transform:scaleX(0.8894);transform-origin:center top;">0%</span>
<span class="t" id="c2so" style="left:788.12px;top:379.39px;font-size:11px;font-weight:400;color:#818ca1;-webkit-text-stroke:0.28px #818ca1;transform:scaleX(0.8542);transform-origin:center top;">SOLD</span>
<span class="t" id="c2ti" style="left:856.80px;top:342.79px;font-size:12.3px;font-weight:400;color:#a5afc2;transform:scaleX(0.9908);transform-origin:left top;">Token Issued</span>
<span class="t" id="c2is" style="left:856.40px;top:361.95px;font-size:21.8px;font-weight:400;color:#6e5ffb;-webkit-text-stroke:0.44px #6e5ffb;transform:scaleX(0.9759);transform-origin:left top;">850,000</span>
<span class="t" id="c2sl" style="left:856.80px;top:390.69px;font-size:11px;font-weight:400;color:#8a95ab;transform:scaleX(0.9576);transform-origin:left top;">Sold <b style="color:#3c4658">0</b> Tokens</span>
<span class="t" id="c2bp" style="left:766.90px;top:456.16px;font-size:12.8px;font-weight:400;color:#a5afc2;transform:scaleX(0.9436);transform-origin:left top;">Base Price</span>
<span class="t" id="c2bb" style="left:905.90px;top:456.16px;font-size:12.8px;font-weight:400;color:#a5afc2;transform:scaleX(0.9346);transform-origin:left top;">Base Bonus</span>
<span class="t" id="c2pr" style="left:768.60px;top:475.25px;font-size:16.6px;font-weight:400;color:#2f3a4e;-webkit-text-stroke:0.30px #2f3a4e;transform:scaleX(0.9793);transform-origin:left top;">0.5</span>
<span class="t" id="c2us" style="left:795.10px;top:480.50px;font-size:10.4px;font-weight:400;color:#9488ff;-webkit-text-stroke:0.19px #9488ff;transform:scaleX(0.8655);transform-origin:left top;">USD</span>
<span class="t" id="c2bn" style="left:906.10px;top:475.25px;font-size:16.6px;font-weight:400;color:#2f3a4e;-webkit-text-stroke:0.30px #2f3a4e;transform:scaleX(0.9963);transform-origin:left top;">45</span>
<span class="t" id="c2bpc" style="left:928.80px;top:480.50px;font-size:10.4px;font-weight:400;color:#9488ff;-webkit-text-stroke:0.19px #9488ff;transform:scaleX(0.7351);transform-origin:left top;">%</span>
<span class="t" id="c2sdl" style="left:766.90px;top:539.76px;font-size:12.8px;font-weight:400;color:#a5afc2;transform:scaleX(0.9597);transform-origin:left top;">Start Date</span>
<span class="t" id="c2edl" style="left:905.90px;top:539.76px;font-size:12.8px;font-weight:400;color:#a5afc2;transform:scaleX(0.9183);transform-origin:left top;">End Date</span>
<span class="t" id="c2sd" style="left:767.80px;top:559.10px;font-size:15px;font-weight:400;color:#2b2768;-webkit-text-stroke:0.18px #2b2768;transform:scaleX(0.9285);transform-origin:left top;">01 Aug, 2019</span>
<span class="t" id="c2ed" style="left:906.10px;top:559.10px;font-size:15px;font-weight:400;color:#2b2768;-webkit-text-stroke:0.18px #2b2768;transform:scaleX(0.9285);transform-origin:left top;">31 Aug, 2019</span>
<span class="t" id="c2st" style="left:767.80px;top:580.54px;font-size:12px;font-weight:400;color:#2b2768;-webkit-text-stroke:0.22px #2b2768;transform:scaleX(0.9265);transform-origin:left top;">01:41 PM</span>
<span class="t" id="c2et" style="left:906.10px;top:580.54px;font-size:12px;font-weight:400;color:#2b2768;-webkit-text-stroke:0.22px #2b2768;transform:scaleX(0.9265);transform-origin:left top;">01:41 PM</span>

</body></html>
